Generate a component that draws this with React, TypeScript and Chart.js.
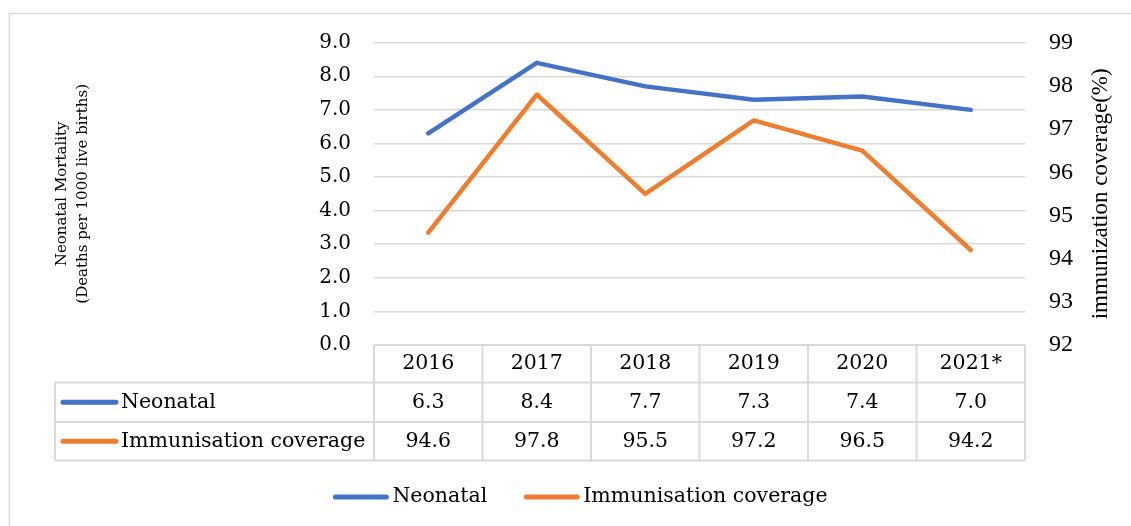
import React, { useEffect, useRef } from 'react';
import { Chart, registerables } from 'chart.js';

Chart.register(...registerables);

const years = ['2016', '2017', '2018', '2019', '2020', '2021*'];
const neonatal = [6.3, 8.4, 7.7, 7.3, 7.4, 7.0];
const immunisation = [94.6, 97.8, 95.5, 97.2, 96.5, 94.2];
const seriesNames = ['Neonatal', 'Immunisation coverage'];
const seriesColors = ['#4472C4', '#ED7D31'];
const leftTitle = ['Neonatal Mortality', '(Deaths per 1000 live births)'];
const rightTitle = 'immunization coverage(%)';
const leftRange = [0, 9];
const rightRange = [92, 99];

const W = 1131;
const H = 526;
const GRID = '#d9d9d9';
const SERIF = '"DejaVu Serif", serif';
const SERIF2 = '"Liberation Serif", serif';

const tablePlugin = {
  id: 'tablePlugin',
  afterDraw(chart: any) {
    const { ctx, chartArea: ca } = chart;
    const xs = chart.scales.x;
    const n = years.length;
    const bw = (ca.right - ca.left) / n;
    ctx.save();

    // outer border
    ctx.strokeStyle = GRID;
    ctx.lineWidth = 1.5;
    ctx.beginPath();
    ctx.moveTo(9.5, chart.height);
    ctx.lineTo(9.5, 13.5);
    ctx.lineTo(chart.width, 13.5);
    ctx.stroke();

    // table grid
    const hTop = ca.bottom;
    const hBot = hTop + 37.5;
    const r1Bot = hBot + 39.5;
    const r2Bot = r1Bot + 38.5;
    const tLeft = 55;
    ctx.strokeStyle = GRID;
    ctx.lineWidth = 2;
    ctx.beginPath();
    ctx.moveTo(ca.left, hTop);
    ctx.lineTo(ca.right, hTop);
    [hBot, r1Bot, r2Bot].forEach((y) => {
      ctx.moveTo(tLeft, y);
      ctx.lineTo(ca.right, y);
    });
    ctx.moveTo(tLeft, hBot);
    ctx.lineTo(tLeft, r2Bot);
    for (let i = 0; i <= n; i++) {
      const x = ca.left + i * bw;
      ctx.moveTo(x, hTop);
      ctx.lineTo(x, r2Bot);
    }
    ctx.stroke();

    ctx.fillStyle = '#000';
    ctx.font = `20.5px ${SERIF}`;
    ctx.textAlign = 'center';
    ctx.textBaseline = 'middle';
    const rowsY = [(hBot + r1Bot) / 2, (r1Bot + r2Bot) / 2];
    const rows = [neonatal, immunisation];
    for (let i = 0; i < n; i++) {
      const cx = xs.getPixelForValue(i);
      ctx.fillText(years[i], cx, (hTop + hBot) / 2);
      rows.forEach((r, k) => ctx.fillText(r[i].toFixed(1), cx, rowsY[k]));
    }

    // row labels with legend keys
    ctx.textAlign = 'left';
    ctx.lineCap = 'round';
    ctx.lineWidth = 5;
    rowsY.forEach((y, k) => {
      ctx.strokeStyle = seriesColors[k];
      ctx.beginPath();
      ctx.moveTo(63, y);
      ctx.lineTo(116, y);
      ctx.stroke();
      ctx.fillText(seriesNames[k], 121, y);
    });

    // bottom legend
    const ly = 497;
    const keyW = 55;
    const gapTxt = 4;
    const gapItem = 37;
    const widths = seriesNames.map((s) => ctx.measureText(s).width);
    const total = widths.reduce((a, w) => a + keyW + gapTxt + w, 0) + gapItem * (seriesNames.length - 1);
    let lx = 580.5 - total / 2;
    seriesNames.forEach((s, k) => {
      ctx.strokeStyle = seriesColors[k];
      ctx.beginPath();
      ctx.moveTo(lx + 2, ly);
      ctx.lineTo(lx + keyW - 2, ly);
      ctx.stroke();
      ctx.fillText(s, lx + keyW + gapTxt, ly);
      lx += keyW + gapTxt + widths[k] + gapItem;
    });

    // left axis title (rotated)
    const cy = (ca.top + ca.bottom) / 2;
    ctx.font = `15px ${SERIF}`;
    ctx.textAlign = 'center';
    leftTitle.forEach((t, k) => {
      ctx.save();
      ctx.translate(62 + k * 21, cy);
      ctx.rotate(-Math.PI / 2);
      ctx.fillText(t, 0, 0);
      ctx.restore();
    });

    // right axis title
    ctx.font = `23px ${SERIF2}`;
    ctx.save();
    ctx.translate(1101, cy);
    ctx.rotate(-Math.PI / 2);
    ctx.fillText(rightTitle, 0, 0);
    ctx.restore();

    ctx.restore();
  },
};

export default function App() {
  const ref = useRef<HTMLCanvasElement | null>(null);
  useEffect(() => {
    if (!ref.current) return;
    const chart = new Chart(ref.current, {
      type: 'line',
      data: {
        labels: years,
        datasets: [
          {
            label: seriesNames[0],
            data: neonatal,
            yAxisID: 'y',
            borderColor: seriesColors[0],
            backgroundColor: seriesColors[0],
            borderWidth: 4.5,
            borderCapStyle: 'round',
            borderJoinStyle: 'round',
            pointRadius: 0,
            tension: 0,
          },
          {
            label: seriesNames[1],
            data: immunisation,
            yAxisID: 'y1',
            borderColor: seriesColors[1],
            backgroundColor: seriesColors[1],
            borderWidth: 4.5,
            borderCapStyle: 'round',
            borderJoinStyle: 'round',
            pointRadius: 0,
            tension: 0,
          },
        ],
      },
      options: {
        animation: false,
        responsive: true,
        maintainAspectRatio: false,
        layout: { padding: { left: 0, right: 0, top: 42.7, bottom: H - 345 } },
        plugins: { legend: { display: false }, tooltip: { enabled: false } },
        scales: {
          x: { type: 'category', display: false, offset: true },
          y: {
            position: 'left',
            min: leftRange[0],
            max: leftRange[1],
            afterFit: (s: any) => {
              s.width = 374;
            },
            ticks: {
              stepSize: 1,
              padding: 23,
              color: '#000',
              font: { family: SERIF, size: 20 },
              callback: (v: any) => Number(v).toFixed(1),
            },
            grid: { color: GRID, lineWidth: 1.5, drawTicks: false },
            border: { display: false },
          },
          y1: {
            position: 'right',
            min: rightRange[0],
            max: rightRange[1],
            afterFit: (s: any) => {
              s.width = W - 1025;
            },
            ticks: {
              stepSize: 1,
              padding: 24,
              color: '#000',
              font: { family: SERIF2, size: 24 },
              callback: (v: any) => String(v),
            },
            grid: { display: false, drawTicks: false },
            border: { display: false },
          },
        },
      },
      plugins: [tablePlugin],
    });
    return () => chart.destroy();
  }, []);
  return (
    <div style={{ position: 'fixed', left: 0, top: 0, width: W, height: H, background: '#fff' }}>
      <canvas ref={ref} />
    </div>
  );
}
